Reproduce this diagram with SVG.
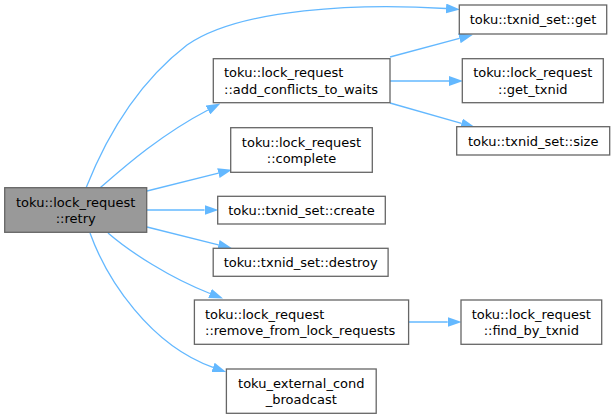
<svg xmlns="http://www.w3.org/2000/svg" width="615" height="419" viewBox="0 0 615 419">
<style>
.box{fill:#ffffff;stroke:#666666;stroke-width:1.3}
.cur{fill:#999999;stroke:#666666;stroke-width:1.3}
.t{font-family:"DejaVu Sans",sans-serif;font-size:13px;fill:#000000}
.m{text-anchor:middle}
.e{fill:none;stroke:#63b8ff;stroke-width:1.3}
</style>
<defs>
<marker id="ah" markerUnits="userSpaceOnUse" markerWidth="14" markerHeight="10" viewBox="0 0 13.3 9.4" refX="0" refY="4.7" orient="auto">
<path d="M0,0 L13.3,4.7 L0,9.4 z" fill="#63b8ff" stroke="none"/>
</marker>
</defs>
<g id="edges">
<path class="e" marker-end="url(#ah)" d="M86,188 C105,140 135,85 187,45 C240,8 360,3 446,8.5"/>
<path class="e" marker-end="url(#ah)" d="M100,188 C123,168 160,135 208,110"/>
<path class="e" marker-end="url(#ah)" d="M147,191 L218.4,173.1"/>
<path class="e" marker-end="url(#ah)" d="M147,210 L204.5,210"/>
<path class="e" marker-end="url(#ah)" d="M147,227 L218.4,244.9"/>
<path class="e" marker-end="url(#ah)" d="M108,233 C130,252 170,278 210,293.5"/>
<path class="e" marker-end="url(#ah)" d="M90,233 C107,280 150,345 213,367.4"/>
<path class="e" marker-end="url(#ah)" d="M390,57 L459.4,38.4"/>
<path class="e" marker-end="url(#ah)" d="M390,81 L449,81"/>
<path class="e" marker-end="url(#ah)" d="M390,103 L461.5,123.4"/>
<path class="e" marker-end="url(#ah)" d="M408.6,322 L447.7,322"/>
</g>
<g id="retry">
<rect class="cur" x="4.7" y="187.7" width="142" height="44.6"/>
<text class="t m" x="75.7" y="206.5">toku::lock_request</text>
<text class="t m" x="75.7" y="223">::retry</text>
</g>
<g id="add_conflicts_to_waits">
<rect class="box" x="213.3" y="58.7" width="176.7" height="44"/>
<text class="t" x="224" y="77.3">toku::lock_request</text>
<text class="t" x="224" y="93.8">::add_conflicts_to_waits</text>
</g>
<g id="complete">
<rect class="box" x="230.7" y="127.7" width="141.6" height="44.6"/>
<text class="t m" x="301.5" y="146.5">toku::lock_request</text>
<text class="t m" x="301.5" y="163">::complete</text>
</g>
<g id="create">
<rect class="box" x="217.7" y="196.3" width="167.6" height="27.7"/>
<text class="t m" x="301.5" y="215">toku::txnid_set::create</text>
</g>
<g id="destroy">
<rect class="box" x="213.2" y="248.3" width="174.9" height="28"/>
<text class="t m" x="300.7" y="267">toku::txnid_set::destroy</text>
</g>
<g id="remove_from_lock_requests">
<rect class="box" x="194.4" y="300" width="214.2" height="44.3"/>
<text class="t" x="205" y="318.8">toku::lock_request</text>
<text class="t" x="205" y="335.3">::remove_from_lock_requests</text>
</g>
<g id="broadcast">
<rect class="box" x="226.4" y="369" width="149.8" height="44.3"/>
<text class="t m" x="301.3" y="387.8">toku_external_cond</text>
<text class="t m" x="301.3" y="404.3">_broadcast</text>
</g>
<g id="get">
<rect class="box" x="459.3" y="5" width="147.4" height="29"/>
<text class="t m" x="533" y="24">toku::txnid_set::get</text>
</g>
<g id="get_txnid">
<rect class="box" x="462.3" y="58.7" width="141" height="44"/>
<text class="t m" x="532.8" y="77.3">toku::lock_request</text>
<text class="t m" x="532.8" y="93.8">::get_txnid</text>
</g>
<g id="size">
<rect class="box" x="456.7" y="126.7" width="153" height="28.3"/>
<text class="t m" x="533.2" y="145.5">toku::txnid_set::size</text>
</g>
<g id="find_by_txnid">
<rect class="box" x="461" y="300" width="140.7" height="44.3"/>
<text class="t m" x="531.3" y="318.8">toku::lock_request</text>
<text class="t m" x="531.3" y="335.3">::find_by_txnid</text>
</g>
</svg>
